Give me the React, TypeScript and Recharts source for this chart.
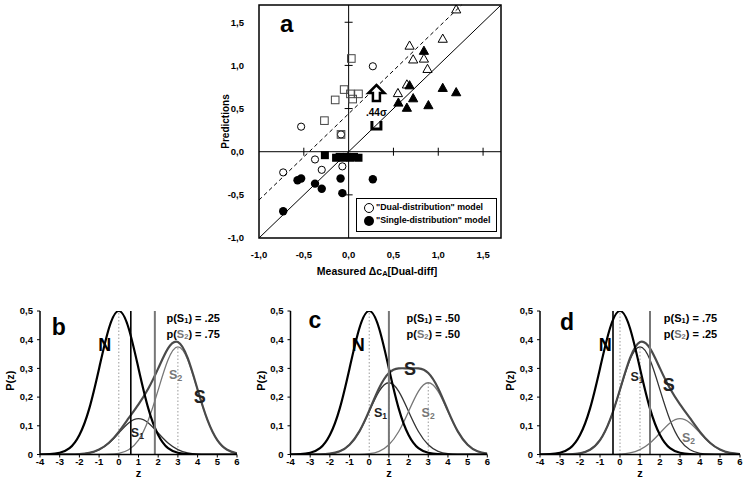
import React from 'react';
import {
  ScatterChart, Scatter, XAxis, YAxis, ReferenceLine, ReferenceArea, ReferenceDot,
  Legend, LineChart, Line, Label,
} from 'recharts';

const FONT = 'Arial, "Liberation Sans", Helvetica, sans-serif';

// ---------- Panel a : measured vs predicted ----------
type P = [number, number];
const dualCircles: P[] = [[0.27, 0.99], [-0.53, 0.29], [-0.085, 0.2], [-0.375, -0.09], [-0.3, -0.21], [-0.07, -0.17], [-0.73, -0.24]];
const dualSquares: P[] = [[0.03, 1.08], [-0.05, 0.72], [0.02, 0.67], [0.11, 0.67], [0.045, 0.61], [-0.15, 0.6], [-0.27, 0.36], [-0.085, 0.2]];
const dualTriangles: P[] = [[1.2, 1.65], [0.68, 1.23], [1.05, 1.31], [0.72, 1.07], [0.84, 1.08], [0.88, 0.96], [0.65, 0.78], [0.55, 0.68]];
const singleCircles: P[] = [[-0.57, -0.33], [-0.53, -0.31], [-0.375, -0.37], [-0.3, -0.43], [-0.09, -0.31], [-0.07, -0.48], [-0.73, -0.69], [0.27, -0.32]];
const singleSquares: P[] = [[-0.265, -0.04], [-0.14, -0.07], [-0.1, -0.06], [-0.06, -0.07], [-0.02, -0.06], [0.02, -0.07], [0.06, -0.06], [0.11, -0.07]];
const singleTriangles: P[] = [[0.84, 1.17], [0.68, 0.77], [1.05, 0.74], [1.2, 0.69], [0.555, 0.57], [0.72, 0.62], [0.65, 0.51], [0.89, 0.54]];
const ticksA = [-1, -0.5, 0, 0.5, 1, 1.5];
const innerTicksA = [-0.5, 0.5, 1, 1.5];
const identityLine: P[] = [[-1, -1], [1.7, 1.7]];
const shiftedLine: P[] = [[-1, -0.56], [1.26, 1.7]];
const shiftPoint: P = [0.31, 0.46];

// ---------- Panels b, c, d : distributions ----------
const zValues = [-4, -3.5, -3, -2.5, -2, -1.5, -1, -0.5, 0, 0.5, 1, 1.5, 2, 2.5, 3, 3.5, 4, 4.5, 5, 5.5, 6];
const zTicks = [-4, -3, -2, -1, 0, 1, 2, 3, 4, 5, 6];
const pTicks = [0, 0.1, 0.2, 0.3, 0.4, 0.5];
const nCurve = [0, 0.001, 0.006, 0.022, 0.068, 0.16, 0.3, 0.44, 0.5, 0.44, 0.3, 0.16, 0.068, 0.022, 0.006, 0.001, 0, 0, 0, 0, 0];

const s1B = [0, 0, 0, 0.0003, 0.0014, 0.0055, 0.017, 0.04, 0.075, 0.11, 0.125, 0.11, 0.075, 0.04, 0.017, 0.0055, 0.0014, 0.0003, 0, 0, 0];
const s2B = [0, 0, 0, 0, 0, 0, 0.0001, 0.0008, 0.004, 0.0165, 0.05, 0.12, 0.225, 0.33, 0.375, 0.33, 0.225, 0.12, 0.05, 0.0165, 0.004];
const sB = [0, 0, 0, 0.0003, 0.0014, 0.0055, 0.0171, 0.0408, 0.079, 0.1265, 0.175, 0.23, 0.3, 0.37, 0.392, 0.3355, 0.2264, 0.1203, 0.05, 0.0165, 0.004];

const s1C = [0, 0, 0.0001, 0.0005, 0.0028, 0.011, 0.034, 0.08, 0.15, 0.22, 0.25, 0.22, 0.15, 0.08, 0.034, 0.011, 0.0028, 0.0005, 0.0001, 0, 0];
const s2C = [0, 0, 0, 0, 0, 0, 0.0001, 0.0005, 0.0028, 0.011, 0.034, 0.08, 0.15, 0.22, 0.25, 0.22, 0.15, 0.08, 0.034, 0.011, 0.0028];
const sC = [0, 0, 0.0001, 0.0005, 0.0028, 0.011, 0.0341, 0.0805, 0.1528, 0.231, 0.284, 0.3, 0.3, 0.3, 0.284, 0.231, 0.1528, 0.0805, 0.0341, 0.011, 0.0028];

const s1D = [0, 0, 0.0001, 0.0008, 0.004, 0.0165, 0.05, 0.12, 0.225, 0.33, 0.375, 0.33, 0.225, 0.12, 0.05, 0.0165, 0.004, 0.0008, 0.0001, 0, 0];
const s2D = [0, 0, 0, 0, 0, 0, 0, 0.0003, 0.0014, 0.0055, 0.017, 0.04, 0.075, 0.11, 0.125, 0.11, 0.075, 0.04, 0.017, 0.0055, 0.0014];
const sD = [0, 0, 0.0001, 0.0008, 0.004, 0.0165, 0.05, 0.1203, 0.2264, 0.3355, 0.392, 0.37, 0.3, 0.23, 0.175, 0.1265, 0.079, 0.0408, 0.0171, 0.0055, 0.0014];

const criteriaB = { black: 0.61, gray: 1.83 };
const criteriaC = { black: null as number | null, gray: 1.0 };
const criteriaD = { black: -0.35, gray: 1.5 };
const meansB: P[] = [[0, 0.5], [3, 0.375]];
const meansC: P[] = [[0, 0.5], [1, 0.25], [3, 0.25]];
const meansD: P[] = [[0, 0.5], [1, 0.375]];
const probsB = ['.25', '.75'];
const probsC = ['.50', '.50'];
const probsD = ['.75', '.25'];

// ---------- helpers ----------
const fmtA = (v: number) => v.toFixed(1).replace('.', ',');
const fmtP = (v: number) => (v === 0 ? '0' : v.toFixed(1).replace('.', ','));
const toObjs = (arr: P[]) => arr.map(([x, y]) => ({ x, y }));

const openCircle = (p: any) => <circle cx={p.cx} cy={p.cy} r={3.6} fill="none" stroke="#000" strokeWidth={1} />;
const filledCircle = (p: any) => <circle cx={p.cx} cy={p.cy} r={4.2} fill="#000" />;
const openSquare = (p: any) => <rect x={p.cx - 3.8} y={p.cy - 3.8} width={7.6} height={7.6} fill="none" stroke="#444" strokeWidth={1} />;
const filledSquare = (p: any) => <rect x={p.cx - 4} y={p.cy - 4} width={8} height={8} fill="#000" />;
const tri = (p: any, filled: boolean) => (
  <path
    d={`M ${p.cx} ${p.cy - 4.6} L ${p.cx + 4.6} ${p.cy + 3.6} L ${p.cx - 4.6} ${p.cy + 3.6} Z`}
    fill={filled ? '#000' : 'none'} stroke="#000" strokeWidth={1}
  />
);
const openTri = (p: any) => tri(p, false);
const filledTri = (p: any) => tri(p, true);

const hTick = (p: any) => <line x1={p.cx - 4} x2={p.cx + 4} y1={p.cy} y2={p.cy} stroke="#000" strokeWidth={1} />;
const vTick = (p: any) => <line x1={p.cx} x2={p.cx} y1={p.cy - 4} y2={p.cy + 4} stroke="#000" strokeWidth={1} />;

const shiftShape = (p: any) => {
  const { cx, cy } = p;
  return (
    <g>
      <path
        d={`M ${cx} ${cy - 27} L ${cx + 8} ${cy - 19} L ${cx + 3.5} ${cy - 19} L ${cx + 3.5} ${cy - 11} L ${cx - 3.5} ${cy - 11} L ${cx - 3.5} ${cy - 19} L ${cx - 8} ${cy - 19} Z`}
        fill="#fff" stroke="#000" strokeWidth={2.5}
      />
      <text x={cx} y={cy} textAnchor="middle" dominantBaseline="central" fontSize={10} fontWeight="bold" fontFamily={FONT}>.44σ</text>
      <path d={`M ${cx - 4.5} ${cy + 9} L ${cx - 4.5} ${cy + 17} L ${cx + 4.5} ${cy + 17} L ${cx + 4.5} ${cy + 9}`} fill="none" stroke="#000" strokeWidth={3} />
    </g>
  );
};

const textShape = (content: React.ReactNode, size: number, opts: any = {}) => (p: any) => (
  <text
    x={p.cx} y={p.cy} fontSize={size} fontWeight="bold" fontFamily={FONT}
    textAnchor={opts.anchor || 'middle'} dominantBaseline="central" fill={opts.fill || '#000'}
  >
    {content}
  </text>
);

const legendContent = () => (
  <div style={{ position: 'relative', width: 141, height: 34, border: '1.5px solid #000', background: '#fff', boxSizing: 'border-box', fontFamily: FONT, fontSize: 8.8, fontWeight: 'bold', color: '#000' }}>
    <svg width={12} height={12} style={{ position: 'absolute', left: 6, top: 3 }}>
      <circle cx={6} cy={6} r={4.5} fill="#fff" stroke="#000" strokeWidth={1} />
    </svg>
    <div style={{ position: 'absolute', left: 19, top: 2, whiteSpace: 'nowrap', lineHeight: '13px' }}>"Dual-distribution" model</div>
    <svg width={12} height={12} style={{ position: 'absolute', left: 6, top: 16 }}>
      <circle cx={6} cy={6} r={5} fill="#000" />
    </svg>
    <div style={{ position: 'absolute', left: 19, top: 15, whiteSpace: 'nowrap', lineHeight: '13px' }}>"Single-distribution" model</div>
  </div>
);

const tickStyle = { fontSize: 9.5, fontWeight: 'bold' as const, fill: '#000', fontFamily: FONT };

function PanelA() {
  return (
    <ScatterChart width={310} height={290} margin={{ top: 5, right: 9, bottom: 0, left: 0 }} style={{ fontFamily: FONT }}>
      <XAxis
        dataKey="x" type="number" domain={[-1, 1.7]} ticks={ticksA} allowDataOverflow
        axisLine={false} tickLine={false} tickMargin={7} height={52} tick={tickStyle} tickFormatter={fmtA}
      >
        <Label
          content={(props: any) => {
            const vb = props.viewBox;
            return (
              <text x={vb.x + vb.width / 2 - 3} y={vb.y + 33} textAnchor="middle" dominantBaseline="central" fontSize={10.5} fontWeight="bold" fontFamily={FONT}>
                <tspan>Measured Δc</tspan>
                <tspan fontSize={7.5} dy={2}>A</tspan>
                <tspan dy={-2}>[Dual-diff]</tspan>
              </text>
            );
          }}
        />
      </XAxis>
      <YAxis
        dataKey="y" type="number" domain={[-1, 1.7]} ticks={ticksA} allowDataOverflow
        axisLine={false} tickLine={false} tickMargin={9} width={59} tick={tickStyle} tickFormatter={fmtA}
      >
        <Label
          content={(props: any) => {
            const vb = props.viewBox;
            const x = vb.x + 25;
            const y = vb.y + vb.height / 2;
            return (
              <text x={x} y={y} transform={`rotate(-90 ${x} ${y})`} textAnchor="middle" dominantBaseline="central" fontSize={10} fontWeight="bold" fontFamily={FONT}>
                Predictions
              </text>
            );
          }}
        />
      </YAxis>
      <ReferenceArea x1={-1} x2={1.7} y1={-1} y2={1.7} fill="none" fillOpacity={0} stroke="#000" strokeWidth={1.5} ifOverflow="visible" />
      <ReferenceLine x={0} stroke="#000" strokeWidth={1} />
      <ReferenceLine y={0} stroke="#000" strokeWidth={1} />
      {innerTicksA.map((t) => (
        <ReferenceDot key={'h' + t} x={0} y={t} shape={hTick} ifOverflow="visible" />
      ))}
      {innerTicksA.map((t) => (
        <ReferenceDot key={'v' + t} x={t} y={0} shape={vTick} ifOverflow="visible" />
      ))}
      <ReferenceLine segment={identityLine.map(([x, y]) => ({ x, y }))} stroke="#000" strokeWidth={1} ifOverflow="visible" />
      <ReferenceLine segment={shiftedLine.map(([x, y]) => ({ x, y }))} stroke="#000" strokeWidth={1} strokeDasharray="4 3" ifOverflow="visible" />
      <Scatter name="dual-c" data={toObjs(dualCircles)} shape={openCircle} isAnimationActive={false} legendType="none" />
      <Scatter name="dual-s" data={toObjs(dualSquares)} shape={openSquare} isAnimationActive={false} legendType="none" />
      <Scatter name="dual-t" data={toObjs(dualTriangles)} shape={openTri} isAnimationActive={false} legendType="none" />
      <Scatter name="single-c" data={toObjs(singleCircles)} shape={filledCircle} isAnimationActive={false} legendType="none" />
      <Scatter name="single-s" data={toObjs(singleSquares)} shape={filledSquare} isAnimationActive={false} legendType="none" />
      <Scatter name="single-t" data={toObjs(singleTriangles)} shape={filledTri} isAnimationActive={false} legendType="none" />
      <ReferenceDot x={shiftPoint[0]} y={shiftPoint[1]} shape={shiftShape} ifOverflow="visible" />
      <ReferenceDot x={-0.69} y={1.49} shape={textShape('a', 24)} ifOverflow="visible" />
      <Legend
        layout="vertical" align="center" verticalAlign="middle" content={legendContent}
        wrapperStyle={{ left: 156, top: 198, width: 141, height: 34 }}
      />
    </ScatterChart>
  );
}

type PanelProps = {
  yAxisWidth: number;
  marginRight: number;
  s1: number[];
  s2: number[];
  s: number[];
  criteria: { black: number | null; gray: number };
  means: P[];
  probs: string[];
  letter: string;
  letterPos: P;
  nPos: P;
  sPos: P;
  s1Pos: P;
  s2Pos: P;
  probX: number;
};

function DistPanel(pr: PanelProps) {
  const data = zValues.map((z, i) => ({ z, N: nCurve[i], S1: pr.s1[i], S2: pr.s2[i], S: pr.s[i] }));
  const sub = (label: string, color: string) => (
    <>
      <tspan fill={color}>S</tspan>
      <tspan fill={color} fontSize={8.5} dy={3}>{label}</tspan>
    </>
  );
  return (
    <LineChart width={250} height={196} data={data} margin={{ top: 16, right: pr.marginRight, bottom: 0, left: 0 }} style={{ fontFamily: FONT }}>
      <XAxis
        dataKey="z" type="number" domain={[-4, 6]} ticks={zTicks} allowDataOverflow
        axisLine={{ stroke: '#000', strokeWidth: 1.5 }} tickLine={{ stroke: '#000' }} tickSize={3} tickMargin={1}
        height={36.5} tick={tickStyle} interval={0}
      >
        <Label
          content={(props: any) => {
            const vb = props.viewBox;
            return (
              <text x={vb.x + vb.width / 2} y={vb.y + 18.5} textAnchor="middle" dominantBaseline="central" fontSize={11} fontWeight="bold" fontFamily={FONT}>z</text>
            );
          }}
        />
      </XAxis>
      <YAxis
        type="number" domain={[0, 0.5]} ticks={pTicks} allowDataOverflow
        axisLine={{ stroke: '#000', strokeWidth: 1.5 }} tickLine={{ stroke: '#000' }} tickSize={3} tickMargin={4}
        width={pr.yAxisWidth} tick={tickStyle} tickFormatter={fmtP} interval={0}
      >
        <Label
          content={(props: any) => {
            const vb = props.viewBox;
            const x = vb.x + vb.width - 30;
            const y = vb.y + vb.height / 2 - 2;
            return (
              <text x={x} y={y} transform={`rotate(-90 ${x} ${y})`} textAnchor="middle" dominantBaseline="central" fontSize={11} fontWeight="bold" fontFamily={FONT}>P(z)</text>
            );
          }}
        />
      </YAxis>
      {pr.means.map(([m, h]) => (
        <ReferenceLine key={'m' + m} segment={[{ x: m, y: 0 }, { x: m, y: h }]} stroke="#999" strokeWidth={1} strokeDasharray="1.5 2" ifOverflow="visible" />
      ))}
      <Line type="natural" dataKey="S1" stroke="#333" strokeWidth={1.3} dot={false} isAnimationActive={false} />
      <Line type="natural" dataKey="S2" stroke="#777" strokeWidth={1.3} dot={false} isAnimationActive={false} />
      <Line type="natural" dataKey="S" stroke="#4a4a4a" strokeWidth={2.2} dot={false} isAnimationActive={false} />
      <Line type="natural" dataKey="N" stroke="#000" strokeWidth={2.2} dot={false} isAnimationActive={false} />
      {pr.criteria.black !== null && (
        <ReferenceLine x={pr.criteria.black} stroke="#000" strokeWidth={1.6} ifOverflow="visible" />
      )}
      <ReferenceLine x={pr.criteria.gray} stroke="#777" strokeWidth={2} ifOverflow="visible" />
      <ReferenceDot x={pr.letterPos[0]} y={pr.letterPos[1]} shape={textShape(pr.letter, 23)} ifOverflow="visible" />
      <ReferenceDot x={pr.nPos[0]} y={pr.nPos[1]} shape={textShape('N', 18)} ifOverflow="visible" />
      <ReferenceDot x={pr.sPos[0]} y={pr.sPos[1]} shape={textShape('S', 18, { fill: '#222' })} ifOverflow="visible" />
      <ReferenceDot x={pr.s1Pos[0]} y={pr.s1Pos[1]} shape={textShape(sub('1', '#222'), 12.5, { anchor: 'start' })} ifOverflow="visible" />
      <ReferenceDot x={pr.s2Pos[0]} y={pr.s2Pos[1]} shape={textShape(sub('2', '#777'), 12.5, { anchor: 'start' })} ifOverflow="visible" />
      <ReferenceDot
        x={pr.probX} y={0.475} ifOverflow="visible"
        shape={textShape(<><tspan>p(S</tspan><tspan fontSize={7.5} dy={2}>1</tspan><tspan dy={-2}>) = {pr.probs[0]}</tspan></>, 11, { anchor: 'start' })}
      />
      <ReferenceDot
        x={pr.probX} y={0.421} ifOverflow="visible"
        shape={textShape(<><tspan>p(</tspan><tspan fill="#777">S</tspan><tspan fill="#777" fontSize={7.5} dy={2}>2</tspan><tspan dy={-2}>) = {pr.probs[1]}</tspan></>, 11, { anchor: 'start' })}
      />
    </LineChart>
  );
}

export default function App() {
  return (
    <div style={{ position: 'absolute', left: 0, top: 0, width: 747, height: 491, background: '#fff', overflow: 'hidden' }}>
      <div style={{ position: 'absolute', left: 200, top: 0 }}>
        <PanelA />
      </div>
      <div style={{ position: 'absolute', left: 0, top: 295 }}>
        <DistPanel
          yAxisWidth={40} marginRight={13} s1={s1B} s2={s2B} s={sB} criteria={criteriaB} means={meansB} probs={probsB}
          letter="b" letterPos={[-3.05, 0.445]} nPos={[-0.71, 0.382]} sPos={[4.11, 0.201]} s1Pos={[0.61, 0.074]} s2Pos={[2.55, 0.277]} probX={2.42}
        />
      </div>
      <div style={{ position: 'absolute', left: 250, top: 295 }}>
        <DistPanel
          yAxisWidth={40.5} marginRight={12.7} s1={s1C} s2={s2C} s={sC} criteria={criteriaC} means={meansC} probs={probsC}
          letter="c" letterPos={[-2.76, 0.47]} nPos={[-0.56, 0.382]} sPos={[2.07, 0.298]} s1Pos={[0.24, 0.144]} s2Pos={[2.66, 0.144]} probX={1.9}
        />
      </div>
      <div style={{ position: 'absolute', left: 497, top: 295 }}>
        <DistPanel
          yAxisWidth={43} marginRight={7} s1={s1D} s2={s2D} s={sD} criteria={criteriaD} means={meansD} probs={probsD}
          letter="d" letterPos={[-2.65, 0.463]} nPos={[-0.74, 0.382]} sPos={[2.44, 0.242]} s1Pos={[0.52, 0.271]} s2Pos={[3.1, 0.056]} probX={2.19}
        />
      </div>
    </div>
  );
}
